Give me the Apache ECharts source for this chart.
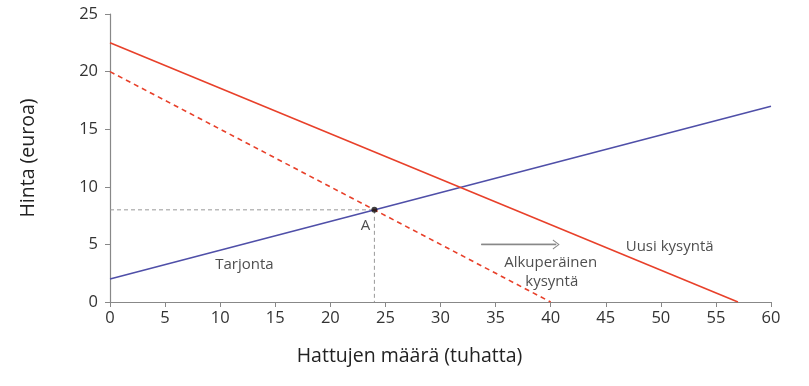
<!DOCTYPE html>
<html><head><meta charset="utf-8">
<script src="https://cdn.jsdelivr.net/npm/echarts@6/dist/echarts.min.js"></script>
<style>html,body{margin:0;padding:0;background:#fff}#c{width:809px;height:386px}</style>
</head><body><div id="c"></div>
<script>
const xTicks = [0,5,10,15,20,25,30,35,40,45,50,55,60];
const yTicks = [0,5,10,15,20,25];
const supply = [[0,2],[60,17]];
const originalDemand = [[0,20],[40,0]];
const newDemand = [[0,22.5],[57,0]];
const equilibrium = [[24,8]];
const guideH = [[0,8],[24,8]];
const guideV = [[24,8],[24,0]];
const shiftArrow = [[33.7,5],[40.5,5]];
const labels = [
  {name:'Tarjonta', value:[12.2,3.2]},
  {name:'A', value:[23.2,6.6]},
  {name:'Alkuperäinen', value:[40.0,3.4]},
  {name:'kysyntä', value:[40.1,1.8]},
  {name:'Uusi kysyntä', value:[50.8,4.8]}
];
const FONT = '"Open Sans", "Noto Sans", sans-serif';
const chart = echarts.init(document.getElementById('c'));
chart.setOption({
  animation:false,
  textStyle:{fontFamily:FONT},
  grid:{left:110,right:38,top:14,bottom:84,containLabel:false},
  xAxis:{type:'value',min:0,max:60,interval:5,
    name:'Hattujen määrä (tuhatta)',nameLocation:'middle',nameGap:44,
    nameTextStyle:{fontSize:19.5,color:'#222',fontFamily:FONT,padding:[0,62,0,0]},
    axisLine:{lineStyle:{color:'#888',width:1.2}},
    axisTick:{show:true,length:5,lineStyle:{color:'#888'}},
    axisLabel:{fontSize:16.5,color:'#333',margin:8,fontFamily:FONT},
    splitLine:{show:false}},
  yAxis:{type:'value',min:0,max:25,interval:5,
    name:'Hinta (euroa)',nameLocation:'middle',nameGap:72,
    nameTextStyle:{fontSize:19.5,color:'#222',fontFamily:FONT},
    axisLine:{show:true,lineStyle:{color:'#888',width:1.2}},
    axisTick:{show:true,length:5,lineStyle:{color:'#888'}},
    axisLabel:{fontSize:16.5,color:'#333',margin:12,fontFamily:FONT},
    splitLine:{show:false}},
  series:[
    {type:'line',data:guideH,symbol:'none',lineStyle:{color:'#999',width:1,type:[4,3]},z:1},
    {type:'line',data:guideV,symbol:'none',lineStyle:{color:'#999',width:1,type:[4,3]},z:1},
    {type:'line',data:supply,symbol:'none',lineStyle:{color:'#4f4fa8',width:1.6},z:2},
    {type:'line',data:originalDemand,symbol:'none',lineStyle:{color:'#e8402a',width:1.6,type:[5,4]},z:2},
    {type:'line',data:newDemand,symbol:'none',lineStyle:{color:'#e8402a',width:1.6},z:2},
    {type:'line',data:shiftArrow,symbol:'none',showSymbol:false,
      lineStyle:{color:'#888',width:1.3},z:2,
      markLine:{silent:true,symbol:['none','path://M0,10 L5,0 L10,10 L9,10.6 L5,2.4 L1,10.6 Z'],symbolSize:[10,7],
        label:{show:false},itemStyle:{color:'#888'},
        lineStyle:{color:'#888',width:1.3,type:'solid'},
        data:[[{coord:shiftArrow[0]},{coord:shiftArrow[1]}]]}},
    {type:'scatter',data:equilibrium,symbolSize:6,itemStyle:{color:'#111'},z:5},
    {type:'scatter',data:labels,symbolSize:0,z:6,
      label:{show:true,position:'inside',formatter:p=>p.name,fontSize:15,color:'#222',fontFamily:FONT}}
  ]
});
</script></body></html>
